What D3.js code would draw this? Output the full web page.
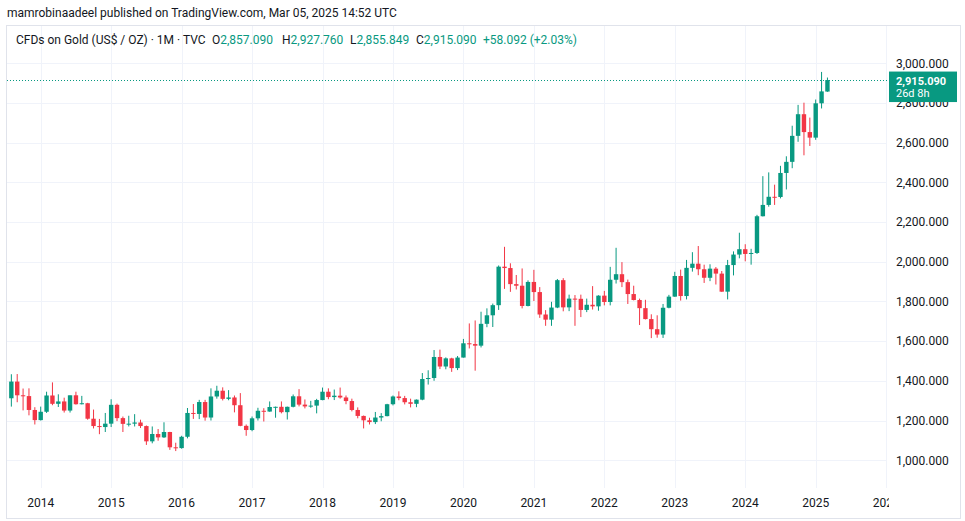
<!DOCTYPE html>
<html>
<head>
<meta charset="utf-8">
<script src="https://cdn.jsdelivr.net/npm/d3@7"></script>
<style>
  html, body { margin: 0; padding: 0; background: #ffffff; }
  svg { display: block; }
  text { font-family: Roboto, "Noto Sans", sans-serif; }
</style>
</head>
<body>
<svg id="chart" width="965" height="521"></svg>
<script>
// ---------------- DATA ----------------
const months = [
  "2013-08","2013-09","2013-10","2013-11","2013-12",
  "2014-01","2014-02","2014-03","2014-04","2014-05","2014-06","2014-07","2014-08","2014-09","2014-10","2014-11","2014-12",
  "2015-01","2015-02","2015-03","2015-04","2015-05","2015-06","2015-07","2015-08","2015-09","2015-10","2015-11","2015-12",
  "2016-01","2016-02","2016-03","2016-04","2016-05","2016-06","2016-07","2016-08","2016-09","2016-10","2016-11","2016-12",
  "2017-01","2017-02","2017-03","2017-04","2017-05","2017-06","2017-07","2017-08","2017-09","2017-10","2017-11","2017-12",
  "2018-01","2018-02","2018-03","2018-04","2018-05","2018-06","2018-07","2018-08","2018-09","2018-10","2018-11","2018-12",
  "2019-01","2019-02","2019-03","2019-04","2019-05","2019-06","2019-07","2019-08","2019-09","2019-10","2019-11","2019-12",
  "2020-01","2020-02","2020-03","2020-04","2020-05","2020-06","2020-07","2020-08","2020-09","2020-10","2020-11","2020-12",
  "2021-01","2021-02","2021-03","2021-04","2021-05","2021-06","2021-07","2021-08","2021-09","2021-10","2021-11","2021-12",
  "2022-01","2022-02","2022-03","2022-04","2022-05","2022-06","2022-07","2022-08","2022-09","2022-10","2022-11","2022-12",
  "2023-01","2023-02","2023-03","2023-04","2023-05","2023-06","2023-07","2023-08","2023-09","2023-10","2023-11","2023-12",
  "2024-01","2024-02","2024-03","2024-04","2024-05","2024-06","2024-07","2024-08","2024-09","2024-10","2024-11","2024-12",
  "2025-01","2025-02","2025-03"
];
const openVals = [
  1312,1396,1327,1323,1253,
  1202,1244,1326,1284,1296,1250,1327,1282,1287,1209,1172,1167,
  1184,1279,1212,1183,1184,1190,1172,1095,1132,1115,1142,1065,
  1061,1118,1238,1233,1293,1215,1321,1350,1309,1316,1277,1173,
  1152,1211,1249,1245,1268,1269,1242,1269,1322,1280,1271,1275,
  1303,1345,1318,1325,1316,1298,1253,1223,1201,1192,1215,1222,
  1282,1321,1313,1292,1284,1305,1409,1414,1520,1472,1513,1464,
  1517,1589,1585,1577,1687,1730,1781,1975,1968,1887,1879,1777,
  1898,1847,1734,1708,1769,1907,1770,1814,1813,1757,1783,1775,
  1829,1797,1909,1937,1897,1837,1807,1766,1711,1660,1633,1768,
  1824,1928,1827,1969,1990,1962,1919,1965,1940,1849,1983,2036,
  2063,2039,2044,2229,2286,2327,2326,2447,2503,2634,2743,2653,
  2625,2798,2857.09
];
const highVals = [
  1433,1434,1361,1362,1267,
  1270,1345,1392,1332,1315,1326,1345,1324,1289,1255,1208,1238,
  1307,1285,1220,1224,1232,1204,1175,1170,1157,1191,1143,1088,
  1123,1263,1283,1304,1304,1362,1375,1367,1353,1326,1338,1180,
  1220,1264,1262,1296,1270,1296,1270,1331,1358,1306,1299,1309,
  1366,1362,1356,1366,1326,1310,1266,1225,1214,1243,1237,1284,
  1326,1347,1324,1310,1306,1439,1453,1555,1557,1518,1516,1525,
  1611,1689,1704,1748,1765,1789,1981,2075,1992,1933,1966,1906,
  1959,1872,1756,1798,1913,1917,1834,1832,1834,1814,1877,1831,
  1853,1974,2070,1998,1910,1879,1814,1808,1735,1730,1787,1833,
  1949,1960,2009,2048,2079,1985,1987,1973,1953,2009,2052,2146,
  2088,2065,2236,2431,2450,2388,2483,2531,2685,2790,2801,2726,
  2817,2956,2927.76
];
const lowVals = [
  1270,1292,1251,1226,1180,
  1200,1238,1277,1268,1240,1240,1280,1281,1204,1160,1131,1142,
  1167,1197,1142,1170,1170,1162,1077,1085,1098,1112,1052,1046,
  1058,1110,1208,1207,1199,1200,1310,1301,1302,1241,1171,1123,
  1146,1200,1195,1244,1214,1236,1205,1266,1271,1261,1264,1236,
  1302,1307,1303,1310,1282,1246,1211,1160,1180,1182,1196,1221,
  1276,1302,1281,1266,1267,1302,1381,1400,1459,1458,1445,1454,
  1517,1563,1451,1568,1670,1671,1757,1863,1848,1860,1765,1775,
  1802,1717,1677,1677,1766,1750,1751,1677,1721,1746,1759,1753,
  1780,1780,1890,1872,1787,1805,1681,1709,1615,1617,1616,1765,
  1823,1804,1810,1950,1932,1893,1902,1885,1848,1810,1931,2017,
  2002,1985,2039,2228,2277,2286,2319,2364,2471,2604,2536,2583,
  2614,2772,2855.849
];
const closeVals = [
  1396,1327,1323,1253,1202,
  1244,1326,1284,1296,1250,1327,1282,1287,1209,1172,1167,1184,
  1279,1212,1183,1184,1190,1172,1095,1132,1115,1142,1065,1061,
  1118,1238,1233,1293,1215,1321,1350,1309,1316,1277,1173,1152,
  1211,1249,1245,1268,1269,1242,1269,1322,1280,1271,1275,1303,
  1345,1318,1325,1316,1298,1253,1223,1201,1192,1215,1222,1282,
  1321,1313,1292,1284,1305,1409,1414,1520,1472,1513,1464,1517,
  1589,1585,1577,1687,1730,1781,1975,1968,1887,1879,1777,1898,
  1847,1734,1708,1769,1907,1770,1814,1813,1757,1783,1775,1829,
  1797,1909,1937,1897,1837,1807,1766,1711,1660,1633,1768,1824,
  1928,1827,1969,1990,1962,1919,1965,1940,1849,1983,2036,2063,
  2039,2044,2229,2286,2327,2326,2447,2503,2634,2743,2653,2625,
  2798,2858,2915.09
];
const priceTicks = [1000,1200,1400,1600,1800,2000,2200,2400,2600,2800,3000];
const yearTicks = ["2014","2015","2016","2017","2018","2019","2020","2021","2022","2023","2024","2025","2026"];
const headerText = "mamrobinaadeel published on TradingView.com, Mar 05, 2025 14:52 UTC";
const symbolText = "CFDs on Gold (US$ / OZ) · 1M · TVC";
const legendLabels = ["O","H","L","C"];
const legendValues = ["2,857.090","2,927.760","2,855.849","2,915.090"];
const changeText = "+58.092 (+2.03%)";
const lastPriceLabel = "2,915.090";
const countdownLabel = "26d 8h";

// ---------------- LAYOUT ----------------
const UP = "#089981", DOWN = "#f23645", GRID = "#f0f3fa", TEXT = "#131722";
const pane = {x0: 7, x1: 887, y0: 26, y1: 488};
const svg = d3.select("#chart");

const monthIndex = s => { const [y, m] = s.split("-").map(Number); return (y - 2013) * 12 + (m - 8); };
const x = d3.scaleLinear().domain([monthIndex("2014-01"), monthIndex("2025-01")]).range([40.7, 815.7]);
const y = d3.scaleLinear().domain([1000, 3000]).range([460.2, 63.2]);

const data = months.map((m, i) => ({m, i: monthIndex(m), o: openVals[i], h: highVals[i], l: lowVals[i], c: closeVals[i]}));
const lastClose = closeVals[closeVals.length - 1];
const ly = y(lastClose);
const boxTop = ly - 8.5, boxH = 30.5;

// outer frame
svg.append("rect").attr("x", 6.5).attr("y", 25.5).attr("width", 954).attr("height", 493)
  .attr("fill", "#fff").attr("stroke", "#e0e3eb");

const defs = svg.append("defs");
defs.append("clipPath").attr("id", "paneClip").append("rect")
  .attr("x", pane.x0).attr("y", pane.y0).attr("width", pane.x1 - pane.x0).attr("height", pane.y1 - pane.y0);
defs.append("clipPath").attr("id", "timeClip").append("rect")
  .attr("x", pane.x0).attr("y", pane.y1).attr("width", 889 - pane.x0).attr("height", 30);
defs.append("clipPath").attr("id", "belowBox").append("rect")
  .attr("x", 886).attr("y", boxTop + boxH).attr("width", 79).attr("height", 40);

const g = svg.append("g").attr("clip-path", "url(#paneClip)");

// grid
g.selectAll("line.hg").data(priceTicks).join("line").attr("class", "hg")
  .attr("x1", pane.x0).attr("x2", pane.x1)
  .attr("y1", d => Math.round(y(d)) + 0.5).attr("y2", d => Math.round(y(d)) + 0.5)
  .attr("stroke", GRID);
g.selectAll("line.vg").data(yearTicks).join("line").attr("class", "vg")
  .attr("x1", d => Math.round(x(monthIndex(d + "-01"))) + 0.5).attr("x2", d => Math.round(x(monthIndex(d + "-01"))) + 0.5)
  .attr("y1", pane.y0).attr("y2", pane.y1)
  .attr("stroke", GRID);

// last price dotted line
g.append("line").attr("x1", pane.x0).attr("x2", pane.x1)
  .attr("y1", Math.round(ly) + 0.5).attr("y2", Math.round(ly) + 0.5)
  .attr("stroke", UP).attr("stroke-dasharray", "1,2");

// candles
const bw = 4.4;
const cg = g.selectAll("g.candle").data(data).join("g").attr("class", "candle");
cg.append("line")
  .attr("x1", d => x(d.i)).attr("x2", d => x(d.i))
  .attr("y1", d => y(d.h)).attr("y2", d => y(d.l))
  .attr("stroke", d => d.c >= d.o ? UP : DOWN).attr("stroke-width", 1);
cg.append("rect")
  .attr("x", d => x(d.i) - bw / 2).attr("width", bw)
  .attr("y", d => Math.min(y(d.o), y(d.c)))
  .attr("height", d => Math.max(1, Math.abs(y(d.o) - y(d.c))))
  .attr("fill", d => d.c >= d.o ? UP : DOWN);

// header
svg.append("text").attr("x", 7).attr("y", 16.5).attr("font-size", 12).attr("fill", TEXT).text(headerText);

// legend
const legY = 44.3, legFs = 12;
svg.append("text").attr("x", 16).attr("y", legY).attr("font-size", legFs).attr("fill", TEXT).text(symbolText);
const legX = [212, 282, 350, 416];
legendLabels.forEach((lab, k) => {
  const t = svg.append("text").attr("x", legX[k]).attr("y", legY).attr("font-size", legFs).attr("fill", TEXT);
  t.append("tspan").text(lab);
  t.append("tspan").attr("fill", UP).text(legendValues[k]);
});
svg.append("text").attr("x", 483).attr("y", legY).attr("font-size", legFs).attr("fill", UP).text(changeText);

// price axis labels (2,800 is partly hidden by the last-price box)
svg.selectAll("text.py").data(priceTicks).join("text").attr("class", "py")
  .attr("x", 896).attr("y", d => y(d) + 4.3).attr("font-size", 12).attr("fill", TEXT)
  .attr("clip-path", d => d === 2800 ? "url(#belowBox)" : null)
  .text(d => d3.format(",.3f")(d));

// last price box
svg.append("rect").attr("x", 889).attr("y", boxTop).attr("width", 68).attr("height", boxH).attr("fill", UP);
svg.append("text").attr("x", 896).attr("y", ly + 4.6).attr("font-size", 11).attr("font-weight", "bold")
  .attr("fill", "#fff").text(lastPriceLabel);
svg.append("text").attr("x", 896).attr("y", ly + 17.2).attr("font-size", 11)
  .attr("fill", "#fff").text(countdownLabel);

// time axis
svg.append("g").attr("clip-path", "url(#timeClip)")
  .selectAll("text").data(yearTicks).join("text")
  .attr("x", d => x(monthIndex(d + "-01"))).attr("y", 507)
  .attr("text-anchor", "middle").attr("font-size", 12).attr("fill", TEXT)
  .text(d => d);
</script>
</body>
</html>
